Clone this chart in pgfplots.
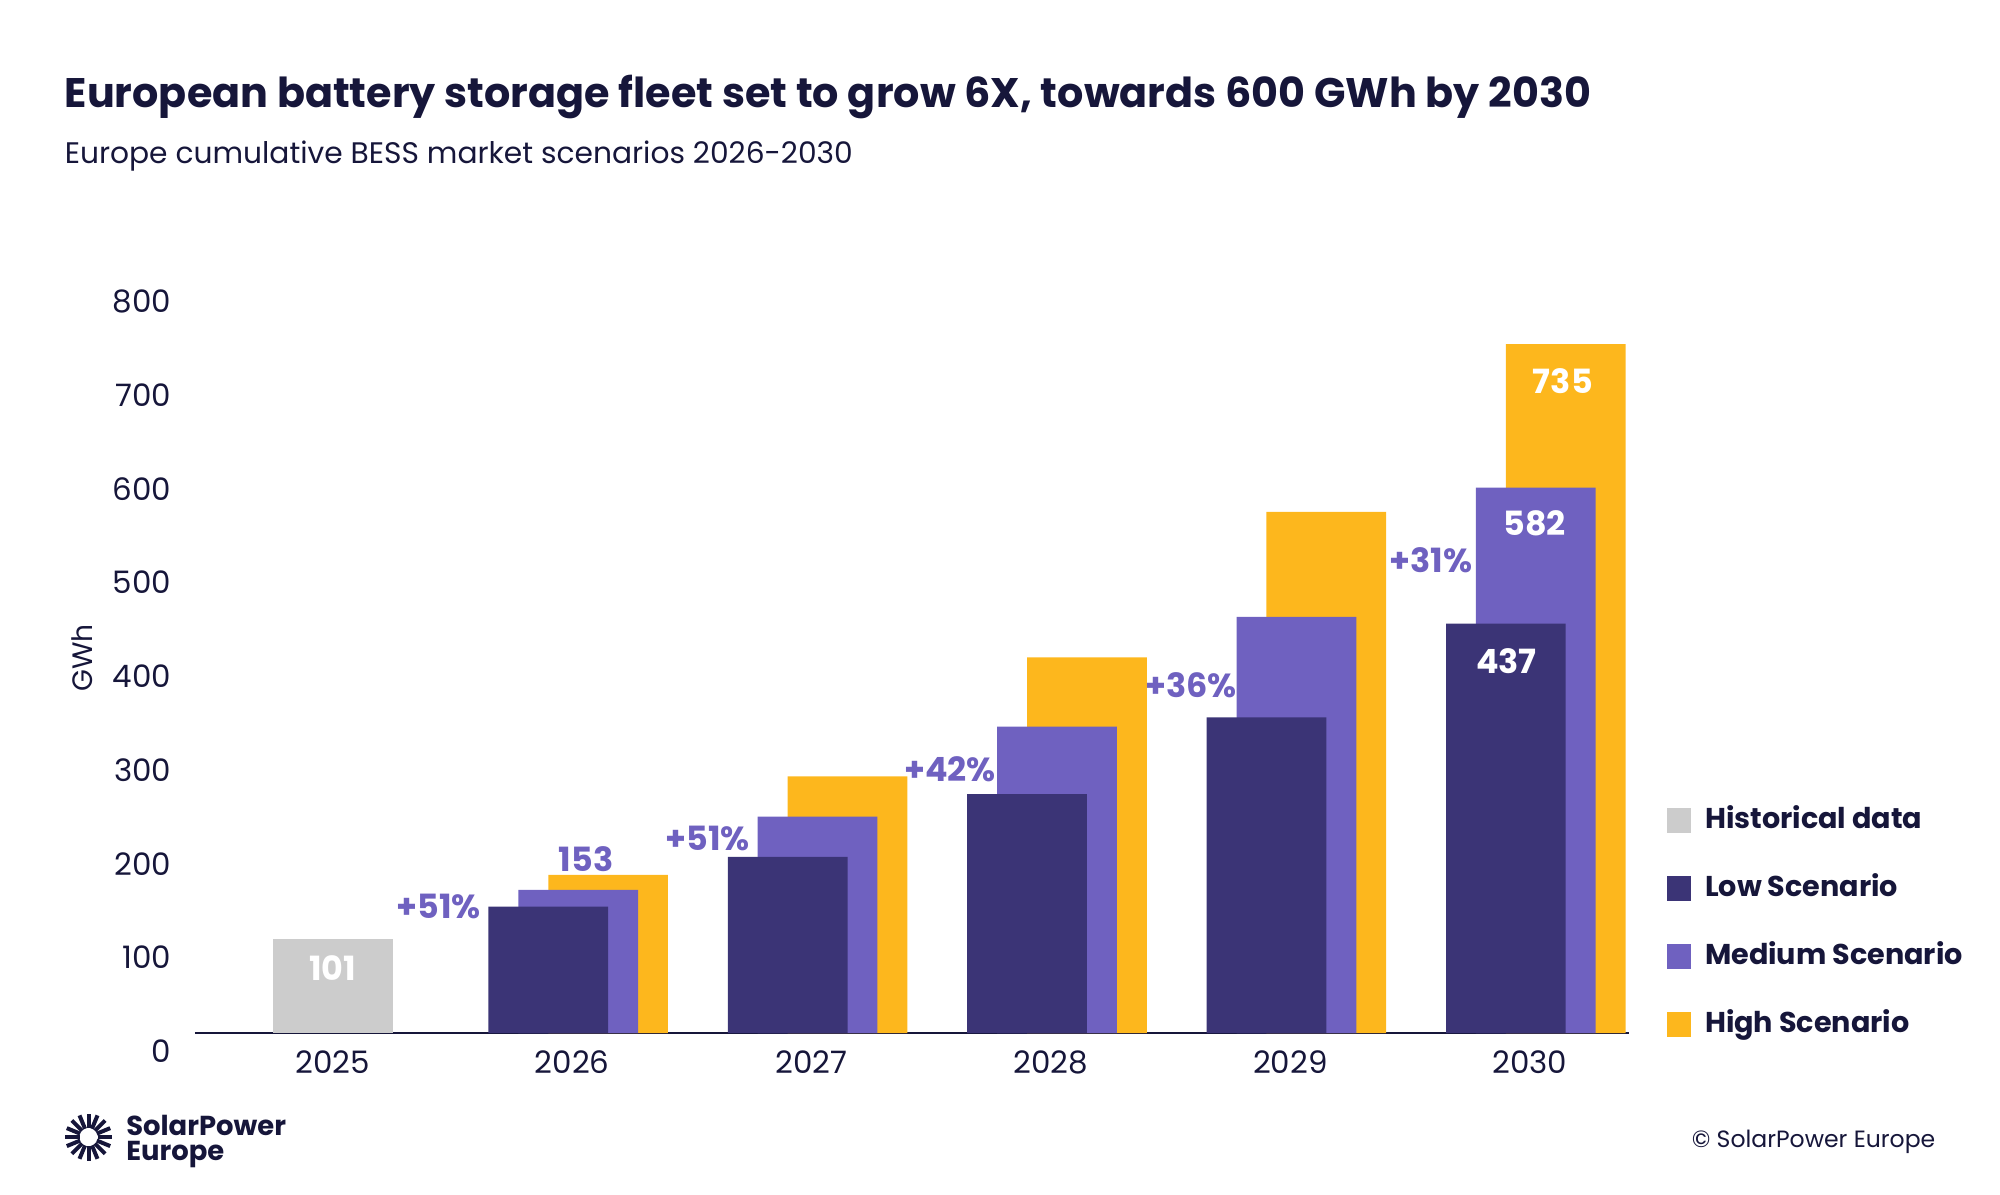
\documentclass[border=0pt]{standalone}
\usepackage{fontspec}
\setmainfont{Poppins}
\usepackage{pgfplots}
\pgfplotsset{compat=1.18}
\definecolor{cgrey}{HTML}{CCCCCC}
\definecolor{clow}{HTML}{3B3476}
\definecolor{cmed}{HTML}{6F61C0}
\definecolor{chigh}{HTML}{FDB71D}
\definecolor{ctext}{HTML}{16163A}
\begin{document}
\begin{tikzpicture}[x=1cm,y=1cm]
\path[use as bounding box] (0,0) rectangle (20,11.94);
\node[anchor=base west, inner sep=0pt, text=ctext, font=\fontsize{11.75}{13}\selectfont\bfseries] at (0.641,10.86) {European battery storage fleet set to grow 6X, towards 600 GWh by 2030};
\node[anchor=base west, inner sep=0pt, text=ctext, font=\fontsize{8.45}{10}\selectfont] at (0.641,10.30) {Europe cumulative BESS market scenarios 2026-2030};
\begin{axis}[
  at={(1.949cm,1.608cm)}, anchor=south west,
  scale only axis, width=14.345cm, height=7.50cm,
  xmin=-0.576, xmax=5.416, ymin=0, ymax=800,
  axis lines*=left,
  y axis line style={draw=none},
  x axis line style={draw=ctext, line width=0.6pt},
  major tick length=0pt,
  tick style={draw=none},
  /pgf/number format/assume math mode=true,
  xtick={0,1,2,3,4,5},
  xticklabels={2025,2026,2027,2028,2029,2030},
  ytick={0,100,...,800},
  xticklabel style={anchor=north, inner sep=0pt, yshift=-0.17cm, text=ctext, font=\fontsize{8.8}{10}\selectfont},
  yticklabel style={anchor=east, inner sep=0pt, xshift=-0.23cm, yshift=-0.18cm, text=ctext, font=\fontsize{8.8}{10}\selectfont},
  ylabel={GWh},
  ylabel style={at={(rel axis cs:0,0.5)}, anchor=center, yshift=1.13cm, text=ctext, font=\fontsize{8}{10}\selectfont},
  clip=false,
  legend style={at={(rel axis cs:1.026,0.3057)}, anchor=north west, draw=none, fill=none,
    inner sep=0pt, outer sep=0pt, row sep=0.35cm, column sep=0.14cm,
    nodes={inner sep=0pt, text height=0.25cm, text depth=0.08cm, text=ctext, font=\fontsize{8.15}{10}\selectfont\bfseries}},
  legend cell align=left,
]
\addlegendimage{legend image code/.code={\fill[cgrey] (0cm,-0.115cm) rectangle (0.23cm,0.115cm);}}
\addlegendentry{Historical data}
\addlegendimage{legend image code/.code={\fill[clow] (0cm,-0.115cm) rectangle (0.23cm,0.115cm);}}
\addlegendentry{Low Scenario}
\addlegendimage{legend image code/.code={\fill[cmed] (0cm,-0.115cm) rectangle (0.23cm,0.115cm);}}
\addlegendentry{Medium Scenario}
\addlegendimage{legend image code/.code={\fill[chigh] (0cm,-0.115cm) rectangle (0.23cm,0.115cm);}}
\addlegendentry{High Scenario}
% Historical
\addplot[ybar, bar width=0.5, bar shift=0pt, fill=cgrey, draw=none, forget plot] coordinates {(0,101)};
% High
\addplot[ybar, bar width=0.5, bar shift=0pt, fill=chigh, draw=none, forget plot] coordinates {(1.15,169) (2.15,274) (3.15,401) (4.15,556) (5.15,735)};
% Medium
\addplot[ybar, bar width=0.5, bar shift=0pt, fill=cmed, draw=none, forget plot] coordinates {(1.025,153) (2.025,231) (3.025,327) (4.025,444) (5.025,582)};
% Low
\addplot[ybar, bar width=0.5, bar shift=0pt, fill=clow, draw=none, forget plot] coordinates {(0.9,135) (1.9,188) (2.9,255) (3.9,337) (4.9,437)};
% annotations
\tikzset{vl/.style={font=\fontsize{9.5}{10}\selectfont\bfseries, inner sep=0pt}}
\node[vl, text=white] at (axis cs:0,69.7) {101};
\node[vl, text=cmed] at (axis cs:1.058,186) {153};
\node[vl, text=white] at (axis cs:5.138,696) {735};
\node[vl, text=white] at (axis cs:5.02,544) {582};
\node[vl, text=white] at (axis cs:4.902,397) {437};
\node[vl, text=cmed] at (axis cs:0.442,135) {+51\%};
\node[vl, text=cmed] at (axis cs:1.566,208) {+51\%};
\node[vl, text=cmed] at (axis cs:2.578,282) {+42\%};
\node[vl, text=cmed] at (axis cs:3.585,371) {+36\%};
\node[vl, text=cmed] at (axis cs:4.586,505) {+31\%};
\end{axis}
% footer logo
\begin{scope}[shift={(0.885,0.569)}]
\foreach \a in {0,22.5,...,337.5} {
  \draw[ctext, line width=0.04cm] (\a:0.09) -- (\a:0.235);
}
\end{scope}
\node[anchor=base west, inner sep=0pt, text=ctext, font=\fontsize{7.8}{8}\selectfont\bfseries] at (1.256,0.582) {SolarPower};
\node[anchor=base west, inner sep=0pt, text=ctext, font=\fontsize{7.8}{8}\selectfont\bfseries] at (1.256,0.338) {Europe};
\node[anchor=base east, inner sep=0pt, text=ctext, font=\fontsize{6.7}{8}\selectfont] at (19.36,0.467) {© SolarPower Europe};
\end{tikzpicture}
\end{document}
